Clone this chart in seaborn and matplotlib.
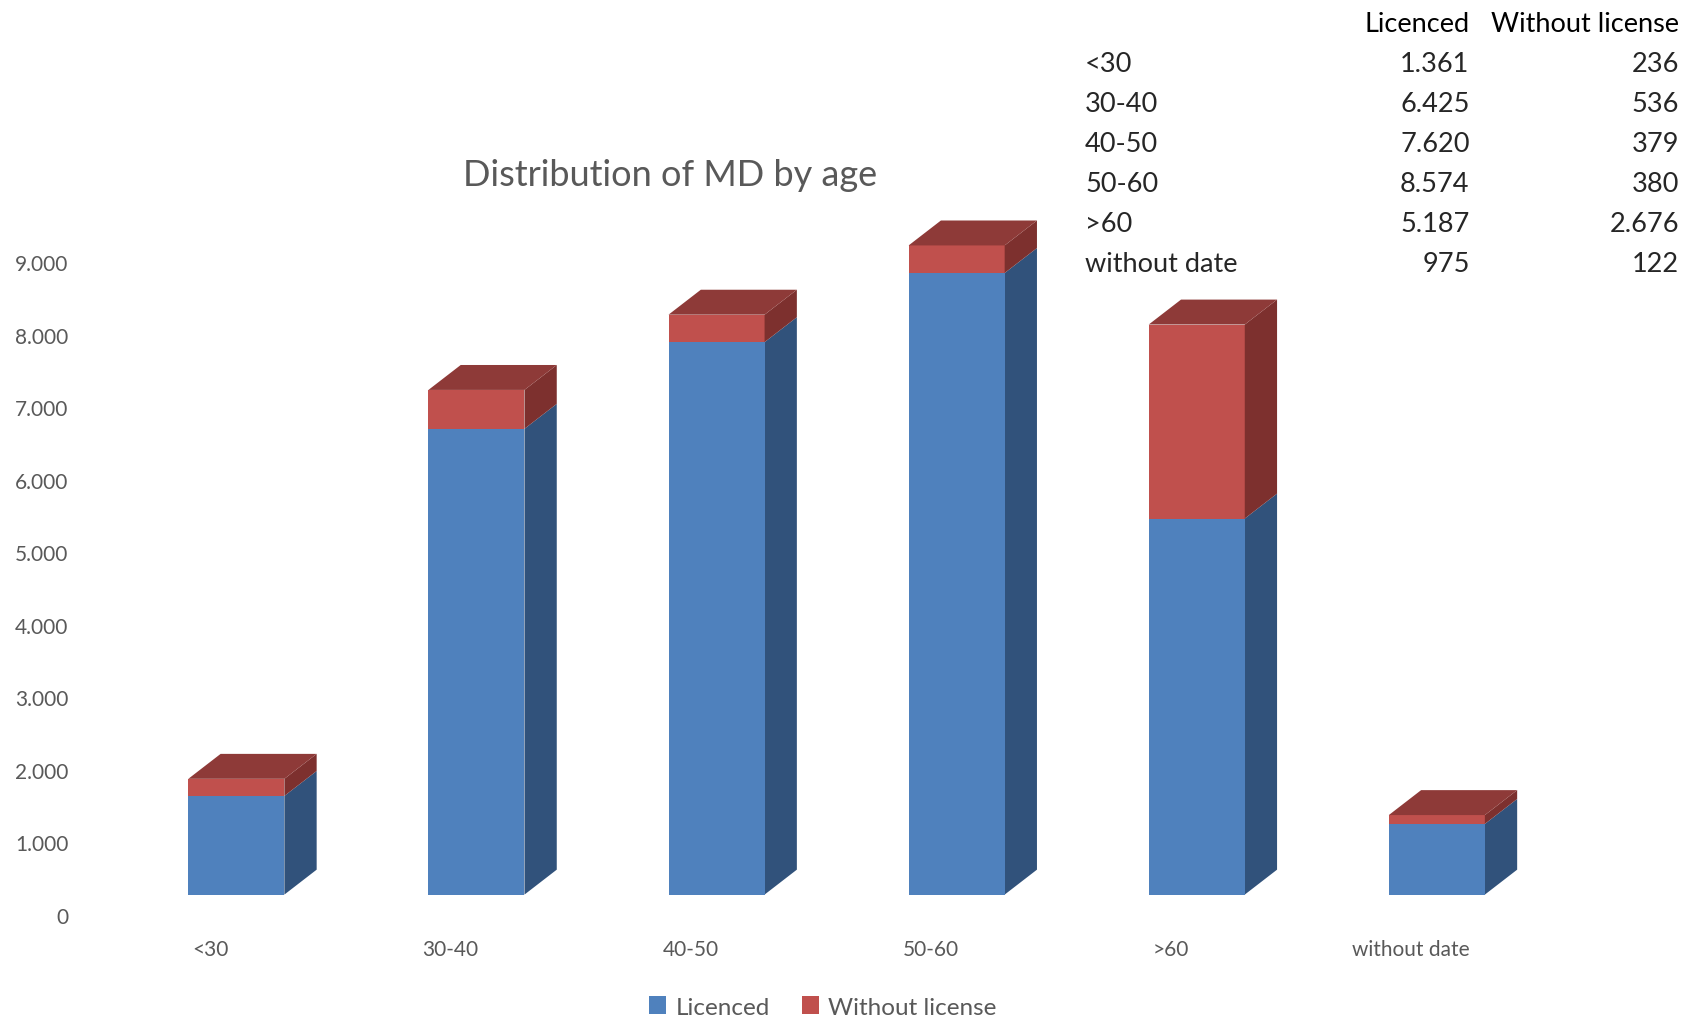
import numpy as np
import matplotlib
matplotlib.use("Agg")
import matplotlib.pyplot as plt
import matplotlib.transforms as mtransforms
from matplotlib.patches import Patch
import seaborn as sns

# data
categories = ["<30", "30-40", "40-50", "50-60", ">60", "without date"]
licenced = [1361, 6425, 7620, 8574, 5187, 975]
without_license = [236, 536, 379, 380, 2676, 122]
series_names = ["Licenced", "Without license"]
y_ticks = list(range(0, 10000, 1000))


def fmt(v):
    """thousands separator as dot, like the original"""
    return "{:,}".format(v).replace(",", ".")


sns.set_style("white")
plt.rcParams["font.family"] = ["Lato", "DejaVu Sans"]

W, H = 1688, 1020
fig = plt.figure(figsize=(W / 100, H / 100), dpi=100)
ax = fig.add_axes([116.3 / W, 124.4 / H, 1440.6 / W, 761.25 / H])

blue, blue_side = "#4F81BD", "#31527B"
red, red_side, red_top = "#C0504D", "#7D302E", "#8E3A38"
grey = "#595959"

totals = [a + b for a, b in zip(licenced, without_license)]
bw = 0.4

# front faces: full stack in red, licenced part on top in blue
sns.barplot(x=categories, y=totals, color=red, saturation=1, width=bw,
            errorbar=None, ax=ax, zorder=2, linewidth=0, edgecolor="none")
sns.barplot(x=categories, y=licenced, color=blue, saturation=1, width=bw,
            errorbar=None, ax=ax, zorder=3, linewidth=0, edgecolor="none")

# depth of the fake 3d
ddx = 0.1345
ddy = 344
for i, (lic, tot) in enumerate(zip(licenced, totals)):
    xr = i + bw / 2
    xl = i - bw / 2
    ax.fill([xr, xr + ddx, xr + ddx, xr], [0, ddy, lic + ddy, lic],
            color=blue_side, lw=0, zorder=2)
    ax.fill([xr, xr + ddx, xr + ddx, xr], [lic, lic + ddy, tot + ddy, tot],
            color=red_side, lw=0, zorder=2)
    ax.fill([xl, xl + ddx, xr + ddx, xr], [tot, tot + ddy, tot + ddy, tot],
            color=red_top, lw=0, zorder=2)

ax.set_xlim(-0.5, 5.5)
ax.set_ylim(0, 10500)
ax.set_yticks(y_ticks)
ax.set_yticklabels([fmt(v) for v in y_ticks])
ax.tick_params(axis="y", length=0, pad=34.6, labelsize=15, labelcolor=grey)
ax.tick_params(axis="x", length=0, pad=32, labelsize=15, labelcolor=grey)
ax.set_xlabel("")
ax.set_ylabel("")
sns.despine(ax=ax, left=True, bottom=True)

# value labels sit a bit lower than the bar fronts, category labels a bit left
off_y = mtransforms.ScaledTranslation(0, -20 / 100, fig.dpi_scale_trans)
off_x = mtransforms.ScaledTranslation(-26 / 100, 0, fig.dpi_scale_trans)
for t in ax.get_yticklabels():
    t.set_transform(t.get_transform() + off_y)
for t in ax.get_xticklabels():
    t.set_transform(t.get_transform() + off_x)

fig.text(670 / W, 1 - 176 / H, "Distribution of MD by age", ha="center",
         va="center", fontsize=26, color=grey)

handles = [Patch(facecolor=blue, edgecolor="none"),
           Patch(facecolor=red, edgecolor="none")]
fig.legend(handles, series_names, loc="center", ncol=2,
           bbox_to_anchor=(823 / W, 12 / H), frameon=False, fontsize=17.5,
           labelcolor=grey, handlelength=0.7, handleheight=0.7,
           handletextpad=0.4, columnspacing=1.3)

# data table in the top right corner
tfs = 19.5
fig.text(1469.5 / W, 1 - 25 / H, series_names[0], ha="right", va="center",
         fontsize=tfs, color="black")
fig.text(1679 / W, 1 - 25 / H, series_names[1], ha="right", va="center",
         fontsize=tfs, color="black")
for i, cat in enumerate(categories):
    yy = 1 - (65 + i * 40) / H
    fig.text(1085 / W, yy, cat, ha="left", va="center", fontsize=tfs)
    fig.text(1469.5 / W, yy, fmt(licenced[i]), ha="right", va="center",
             fontsize=tfs)
    fig.text(1679 / W, yy, fmt(without_license[i]), ha="right", va="center",
             fontsize=tfs)

fig.savefig("out.png", dpi=100, facecolor="white")
